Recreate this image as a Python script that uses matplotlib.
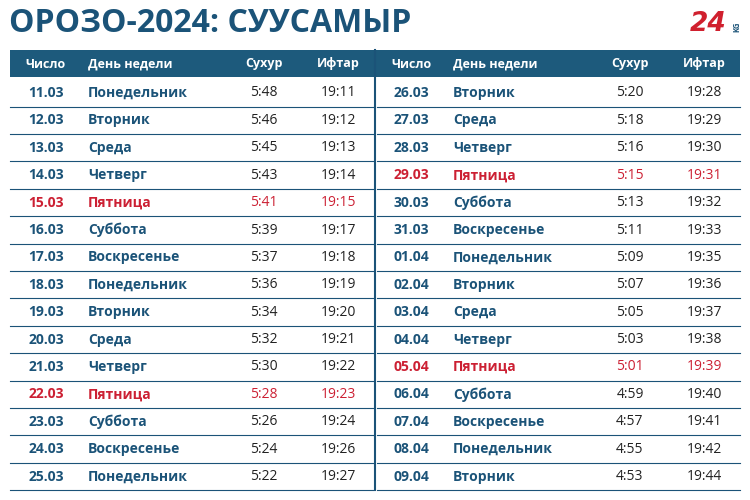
import matplotlib
matplotlib.use('Agg')
import matplotlib.pyplot as plt
from matplotlib.patches import Rectangle

plt.rcParams['font.family'] = 'Open Sans'

title = "ОРОЗО-2024: СУУСАМЫР"
col_labels = ["Число", "День недели", "Сухур", "Ифтар"]

dates_left = ["11.03", "12.03", "13.03", "14.03", "15.03", "16.03", "17.03", "18.03",
              "19.03", "20.03", "21.03", "22.03", "23.03", "24.03", "25.03"]
days_left = ["Понедельник", "Вторник", "Среда", "Четверг", "Пятница", "Суббота", "Воскресенье",
             "Понедельник", "Вторник", "Среда", "Четверг", "Пятница", "Суббота", "Воскресенье",
             "Понедельник"]
suhur_left = ["5:48", "5:46", "5:45", "5:43", "5:41", "5:39", "5:37", "5:36",
              "5:34", "5:32", "5:30", "5:28", "5:26", "5:24", "5:22"]
iftar_left = ["19:11", "19:12", "19:13", "19:14", "19:15", "19:17", "19:18", "19:19",
              "19:20", "19:21", "19:22", "19:23", "19:24", "19:26", "19:27"]

dates_right = ["26.03", "27.03", "28.03", "29.03", "30.03", "31.03", "01.04", "02.04",
               "03.04", "04.04", "05.04", "06.04", "07.04", "08.04", "09.04"]
days_right = ["Вторник", "Среда", "Четверг", "Пятница", "Суббота", "Воскресенье", "Понедельник",
              "Вторник", "Среда", "Четверг", "Пятница", "Суббота", "Воскресенье", "Понедельник",
              "Вторник"]
suhur_right = ["5:20", "5:18", "5:16", "5:15", "5:13", "5:11", "5:09", "5:07",
               "5:05", "5:03", "5:01", "4:59", "4:57", "4:55", "4:53"]
iftar_right = ["19:28", "19:29", "19:30", "19:31", "19:32", "19:33", "19:35", "19:36",
               "19:37", "19:38", "19:39", "19:40", "19:41", "19:42", "19:44"]

BLUE = '#1b5378'
HEAD = '#1d5a7c'
RED = '#cc2033'
GRAY = '#222222'

fig = plt.figure(figsize=(7.5, 5), dpi=100)
ax = fig.add_axes([0, 0, 1, 1])
ax.set_xlim(0, 750)
ax.set_ylim(500, 0)
ax.axis('off')

ax.text(9, 24, title, fontsize=23, fontweight='bold', color=BLUE, va='center', ha='left')

# logo
ax.text(708, 24, "24", fontsize=19, fontweight='bold', fontstyle='italic', color='#d0202e',
        va='center', ha='center', family='DejaVu Sans')
ax.text(737, 27, "KG", fontsize=5.5, fontweight='bold', color=BLUE, rotation=90, va='center', ha='center')

ax.add_patch(Rectangle((10, 50), 730, 27, color=HEAD, lw=0))
ax.plot([375, 375], [50, 490], color=BLUE, lw=1.5)

row0 = 93
pitch = 27.4

def draw_half(x0, x1, cx_date, x_day, cx_suh, cx_ift, dates, days, suh, ift):
    hy = 64
    ax.text(cx_date, hy, col_labels[0], color='white', fontsize=9, fontweight='bold', ha='center', va='center')
    ax.text(x_day, hy, col_labels[1], color='white', fontsize=9, fontweight='bold', ha='left', va='center')
    ax.text(cx_suh, hy, col_labels[2], color='white', fontsize=9, fontweight='bold', ha='center', va='center')
    ax.text(cx_ift, hy, col_labels[3], color='white', fontsize=9, fontweight='bold', ha='center', va='center')
    for i, (d, day, s, f) in enumerate(zip(dates, days, suh, ift)):
        y = row0 + i * pitch
        red = day == "Пятница"
        c1 = RED if red else BLUE
        c2 = RED if red else GRAY
        ax.text(cx_date, y, d, color=c1, fontsize=10, fontweight='bold', ha='center', va='center')
        ax.text(x_day, y, day, color=c1, fontsize=10, fontweight='bold', ha='left', va='center')
        ax.text(cx_suh, y, s, color=c2, fontsize=10, ha='center', va='center')
        ax.text(cx_ift, y, f, color=c2, fontsize=10, ha='center', va='center')
        ax.plot([x0, x1], [y + 13.5, y + 13.5], color=BLUE, lw=0.8)

draw_half(10, 373, 46, 88, 264, 338, dates_left, days_left, suhur_left, iftar_left)
draw_half(377, 740, 411, 453, 630, 704, dates_right, days_right, suhur_right, iftar_right)

fig.savefig('out.png', dpi=100)
